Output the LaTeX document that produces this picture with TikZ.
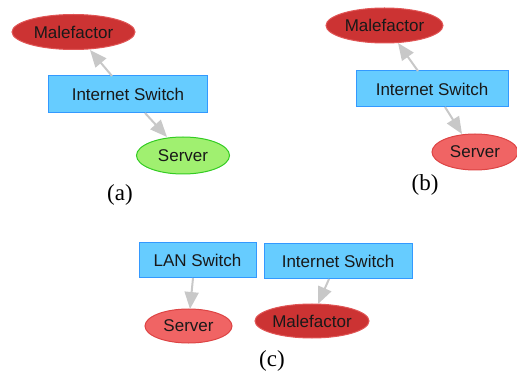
\documentclass[tikz,border=0pt]{standalone}
\usepackage{fontspec}
\setmainfont{Liberation Serif}
\newfontfamily\nodefont{Liberation Sans}
\usetikzlibrary{arrows.meta,shapes.geometric}
\definecolor{malfill}{HTML}{CC3333}
\definecolor{maldraw}{HTML}{E05555}
\definecolor{srvfill}{HTML}{F06464}
\definecolor{srvdraw}{HTML}{DD4444}
\definecolor{okfill}{HTML}{A0F070}
\definecolor{okdraw}{HTML}{33CC22}
\definecolor{swfill}{HTML}{66CCFF}
\definecolor{swdraw}{HTML}{3399FF}
\definecolor{edgegray}{HTML}{C8C8C8}
\tikzset{
  lbl/.style={font=\nodefont\fontsize{17}{19}\selectfont, text=black!90, inner sep=0pt},
  ell/.style={lbl, ellipse, line width=1pt, minimum height=#1},
  malnode/.style={ell=35pt, fill=malfill, draw=maldraw},
  srvnode/.style={ell=36pt, fill=srvfill, draw=srvdraw},
  oknode/.style={ell=37pt, fill=okfill, draw=okdraw},
  swnode/.style={lbl, rectangle, fill=swfill, draw=swdraw, line width=1pt},
  link/.style={draw=edgegray, line width=2pt,
    -{Triangle[length=17pt,width=14pt,fill=edgegray,color=edgegray]}},
  caption/.style={font=\fontsize{23}{25}\selectfont, inner sep=0pt}
}
\begin{document}
\begin{tikzpicture}[x=1pt,y=-1pt]
\useasboundingbox (0,0) rectangle (517,374);

% (a) attack contained: server healthy
\node[malnode, minimum width=123pt] (ma) at (73.5,32) {Malefactor};
\node[swnode, minimum width=159pt, minimum height=37pt] (ia) at (128,94.5) {Internet Switch};
\node[oknode, minimum width=93pt] (sa) at (183,155.5) {Server};
\coordinate (iat) at (112,76);
\coordinate (mab) at (90,50);
\coordinate (iab) at (145,113);
\coordinate (sat) at (167,137);
\draw[link] (iat) -- (mab);
\draw[link] (iab) -- (sat);
\node[caption] (capa) at (120,195) {(a)};

% (b) server compromised through the internet switch
\node[malnode, minimum width=117pt] (mb) at (384.5,25.5) {Malefactor};
\node[swnode, minimum width=152pt, minimum height=36pt] (ib) at (432,89) {Internet Switch};
\node[srvnode, minimum width=86pt] (sb) at (475,152) {Server};
\coordinate (ibt) at (418,71);
\coordinate (mbb) at (398,43);
\coordinate (ibb) at (445,107);
\coordinate (sbt) at (462,134);
\draw[link] (ibt) -- (mbb);
\draw[link] (ibb) -- (sbt);
\node[caption] (capb) at (425,185) {(b)};

% (c) separate networks
\node[swnode, minimum width=117pt, minimum height=35pt] (lc) at (197.5,260.5) {LAN Switch};
\node[swnode, minimum width=148pt, minimum height=35pt] (ic) at (338,261.5) {Internet Switch};
\node[srvnode, minimum width=87pt, minimum height=34pt] (sc) at (188.5,326) {Server};
\node[malnode, minimum width=114pt, minimum height=34pt] (mc) at (312,321) {Malefactor};
\coordinate (lcb) at (193,278);
\coordinate (sct) at (190,309);
\coordinate (icb) at (329,279);
\coordinate (mct) at (318,304);
\draw[link] (lcb) -- (sct);
\draw[link] (icb) -- (mct);
\node[caption] (capc) at (272,361) {(c)};
\end{tikzpicture}
\end{document}
